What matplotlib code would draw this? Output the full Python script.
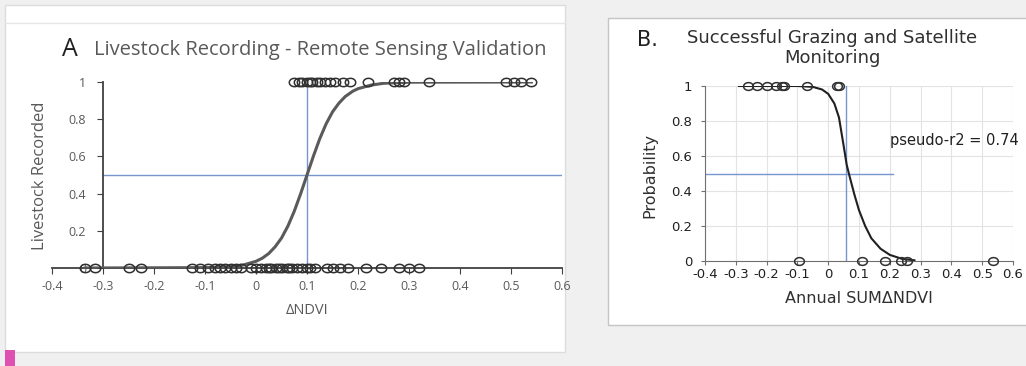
# Livestock recording / grazing validation - two logistic panels
import numpy as np
import matplotlib.pyplot as plt
from matplotlib.patches import Rectangle

# ---- data panel A ----
a_x0 = [-0.335, -0.315, -0.25, -0.225, -0.125, -0.11, -0.095, -0.08, -0.07, -0.06,
        -0.05, -0.04, -0.03, -0.01, 0.0, 0.01, 0.02, 0.025, 0.03, 0.04, 0.045, 0.05,
        0.06, 0.065, 0.07, 0.08, 0.09, 0.1, 0.105, 0.115, 0.14, 0.15, 0.165, 0.18,
        0.215, 0.245, 0.28, 0.3, 0.32]
a_x1 = [0.075, 0.085, 0.09, 0.1, 0.105, 0.11, 0.12, 0.125, 0.135, 0.145, 0.155,
        0.17, 0.185, 0.22, 0.27, 0.28, 0.29, 0.34, 0.49, 0.505, 0.52, 0.54]
a_curve_x = [-0.335, -0.1, -0.05, -0.025, 0.0, 0.0125, 0.025, 0.0375, 0.05, 0.0625,
             0.075, 0.0875, 0.1, 0.1125, 0.125, 0.1375, 0.15, 0.1625, 0.175, 0.19,
             0.2, 0.225, 0.25, 0.3, 0.54]
a_curve_y = [0.0, 0.002, 0.007, 0.016, 0.036, 0.053, 0.078, 0.114, 0.161, 0.225,
             0.305, 0.399, 0.5, 0.601, 0.695, 0.775, 0.839, 0.886, 0.922, 0.951,
             0.964, 0.983, 0.993, 0.999, 1.0]

# ---- data panel B ----
b_x1 = [-0.26, -0.23, -0.2, -0.17, -0.15, -0.145, -0.07, 0.03, 0.035]
b_x0 = [-0.095, 0.11, 0.185, 0.235, 0.255, 0.535]
b_curve_x = [-0.29, -0.1, -0.05, -0.02, 0.0, 0.02, 0.035, 0.05, 0.06, 0.07, 0.085,
             0.1, 0.12, 0.14, 0.17, 0.2, 0.24, 0.28]
b_curve_y = [1.0, 1.0, 0.995, 0.98, 0.955, 0.9, 0.82, 0.66, 0.55, 0.48, 0.38,
             0.29, 0.2, 0.13, 0.07, 0.035, 0.012, 0.004]

xticks_a = [-0.4, -0.3, -0.2, -0.1, 0, 0.1, 0.2, 0.3, 0.4, 0.5, 0.6]
xlabels_a = ['-0.4', '-0.3', '-0.2', '-0.1', '0', '0.1', '0.2', '0.3', '0.4', '0.5', '0.6']
yticks = [0, 0.2, 0.4, 0.6, 0.8, 1]
ylabels = ['0', '0.2', '0.4', '0.6', '0.8', '1']

# slightly wide open circle (the source picture is stretched sideways)
t = np.linspace(0, 2 * np.pi, 40)
oval = list(zip(np.cos(t), 0.8 * np.sin(t)))

W, H = 1026, 366
fig = plt.figure(figsize=(W / 100, H / 100), dpi=100)
fig.patch.set_facecolor('#f0f0f0')

# white backgrounds of the two pasted panels
fig.patches.append(Rectangle((5 / W, 1 - 352 / H), 560 / W, 347 / H,
                             transform=fig.transFigure, facecolor='white',
                             edgecolor='#dcdcdc', lw=1, zorder=-5))
fig.add_artist(plt.Line2D([5 / W, 565 / W], [1 - 23 / H] * 2, color='#e6e6e6', lw=1))
fig.patches.append(Rectangle((608 / W, 1 - 325 / H), 430 / W, 307 / H,
                             transform=fig.transFigure, facecolor='white',
                             edgecolor='#c4c4c4', lw=1, zorder=-5))
fig.patches.append(Rectangle((5 / W, 0), 10 / W, 16 / H, transform=fig.transFigure,
                             facecolor='#e050b0', edgecolor='none'))

gray_txt = '#595959'
curve_col = '#5a5a5a'
blue = '#7796cc'
fa = 'Open Sans'
fb = 'DejaVu Sans'

# ---------------- panel A ----------------
axA = fig.add_axes([52 / W, 1 - 268 / H, 510 / W, 186 / H])
axA.set_facecolor('none')
axA.set_xlim(-0.4, 0.6)
axA.set_ylim(0, 1)
axA.plot([0.1, 0.1], [0, 1], color=blue, lw=1)
axA.plot([-0.3, 0.6], [0.5, 0.5], color=blue, lw=1)
axA.plot(a_curve_x, a_curve_y, color=curve_col, lw=2.2, zorder=3)
axA.plot(a_x0, np.zeros(len(a_x0)), marker=oval, ls='none', ms=7.5, mfc='none',
         mec='#303030', mew=1.1, clip_on=False, zorder=4)
axA.plot(a_x1, np.ones(len(a_x1)), marker=oval, ls='none', ms=7.5, mfc='none',
         mec='#303030', mew=1.1, clip_on=False, zorder=4)
for s in ['top', 'right']:
    axA.spines[s].set_visible(False)
axA.spines['left'].set_position(('data', -0.3))
for s in ['left', 'bottom']:
    axA.spines[s].set_color('#404040')
    axA.spines[s].set_linewidth(1.3)
axA.set_xticks(xticks_a)
axA.set_xticklabels(xlabels_a)
axA.set_yticks(yticks)
axA.set_yticklabels(ylabels)
axA.tick_params(colors='#404040', labelcolor=gray_txt, labelsize=9, length=4,
                labelfontfamily=fa)
axA.tick_params(axis='x', pad=5)
axA.tick_params(axis='y', pad=8)
axA.set_xlabel('ΔNDVI', fontsize=10.5, color=gray_txt, family=fa, labelpad=7)
fig.text(40 / W, 1 - 176 / H, 'Livestock Recorded', rotation=90, fontsize=12,
         color=gray_txt, family=fa, ha='center', va='center')
fig.text(62 / W, 1 - 49 / H, 'A', fontsize=18, color='#202020', family=fa,
         ha='left', va='center')
fig.text(94 / W, 1 - 50 / H, 'Livestock Recording - Remote Sensing Validation',
         fontsize=14.5, color=gray_txt, family=fa, ha='left', va='center')

# ---------------- panel B ----------------
axB = fig.add_axes([705 / W, 1 - 261 / H, 308 / W, 175 / H])
axB.set_facecolor('none')
axB.set_xlim(-0.4, 0.6)
axB.set_ylim(0, 1)
axB.set_xticks(xticks_a)
axB.set_xticklabels(xlabels_a)
axB.set_yticks(yticks)
axB.set_yticklabels(ylabels)
axB.grid(True, color='#e3e3e3', lw=0.8)
axB.plot([0.058, 0.058], [0, 1], color=blue, lw=1)
axB.plot([-0.4, 0.21], [0.5, 0.5], color=blue, lw=1)
axB.plot(b_curve_x, b_curve_y, color='#202020', lw=1.5, zorder=3)
axB.plot(b_x1, np.ones(len(b_x1)), marker=oval, ls='none', ms=7, mfc='none',
         mec='#303030', mew=1.1, clip_on=False, zorder=4)
axB.plot(b_x0, np.zeros(len(b_x0)), marker=oval, ls='none', ms=7, mfc='none',
         mec='#303030', mew=1.1, clip_on=False, zorder=4)
for s in ['top', 'right']:
    axB.spines[s].set_visible(False)
axB.spines['left'].set_color('#707070')
axB.spines['bottom'].set_color('#707070')
axB.tick_params(colors='#707070', labelcolor='#202020', labelsize=9.5, length=3,
                labelfontfamily=fb)
axB.tick_params(axis='x', pad=2)
axB.tick_params(axis='y', pad=6)
axB.text(0.2, 0.69, 'pseudo-r2 = 0.74', fontsize=10.5, family=fb,
         color='#202020', ha='left', va='center')
axB.set_xlabel('Annual SUMΔNDVI', fontsize=11.5, family=fb,
               color='#303030', labelpad=7)
fig.text(650 / W, 1 - 175 / H, 'Probability', rotation=90, fontsize=11.5,
         family=fb, color='#303030', ha='center', va='center')
fig.text(637 / W, 1 - 40 / H, 'B.', fontsize=15, family=fb,
         color='#202020', ha='left', va='center')
fig.text(832 / W, 1 - 48 / H, 'Successful Grazing and Satellite\nMonitoring',
         fontsize=13, family=fb, color='#303030', ha='center',
         va='center', linespacing=1.1)

fig.savefig('out.png', dpi=100, facecolor=fig.get_facecolor())
